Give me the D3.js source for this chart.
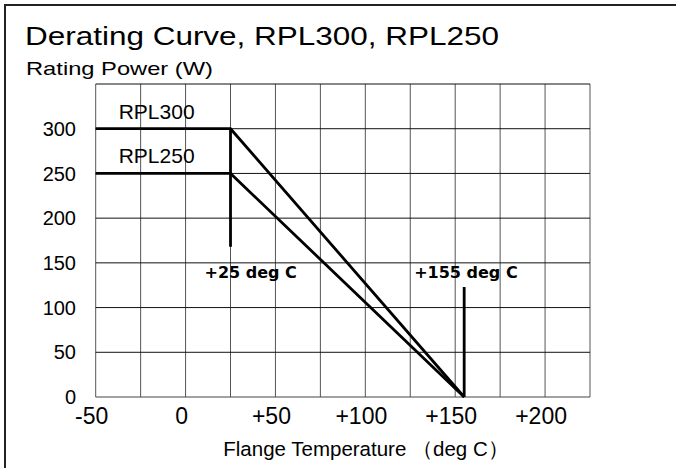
<!DOCTYPE html>
<html>
<head>
<meta charset="utf-8">
<script src="https://cdn.jsdelivr.net/npm/d3@7"></script>
<style>
  body { margin: 0; background: #fff; }
  text { font-family: "Liberation Sans", Arial, sans-serif; fill: #000; }
  text.mark { font-family: "DejaVu Sans", sans-serif; font-weight: bold; }
</style>
</head>
<body>
<svg id="chart" width="676" height="468"></svg>
<script>
// derating curve data (deg C / W)
var temps = [-50, 25, 155];
var rpl300 = [300, 300, 0];
var rpl250 = [250, 250, 0];
var seriesNames = ["RPL300", "RPL250"];
var xTicks = [-50, 0, 50, 100, 150, 200];
var xTickLabels = ["-50", "0", "+50", "+100", "+150", "+200"];
var yTicks = [0, 50, 100, 150, 200, 250, 300];
var markerTemps = [25, 155];
var markerTop = [300, 123];
var markerBottom = [168, 0];
var markerLabels = ["+25 deg C", "+155 deg C"];

var svg = d3.select("#chart");

var x = d3.scaleLinear().domain([-50, 225]).range([95.7, 590]);
var y = d3.scaleLinear().domain([0, 350]).range([397, 84]);

// outer frame (only top & left visible)
svg.append("path")
    .attr("d", "M5,470 L5,5 L680,5")
    .attr("fill", "none")
    .attr("stroke", "#222")
    .attr("stroke-width", 2);

// title text boxes are stretched wide in the original
svg.append("text")
    .attr("x", 25).attr("y", 45)
    .attr("font-size", 26)
    .attr("textLength", 474)
    .attr("lengthAdjust", "spacingAndGlyphs")
    .text("Derating Curve, RPL300, RPL250");
svg.append("text")
    .attr("x", 26).attr("y", 74.5)
    .attr("font-size", 19)
    .attr("textLength", 187)
    .attr("lengthAdjust", "spacingAndGlyphs")
    .text("Rating Power (W)");

// grid
var grid = svg.append("g");
grid.selectAll("line.v")
    .data(d3.range(-50, 226, 25))
    .enter().append("line")
    .attr("x1", function(d){ return x(d); })
    .attr("x2", function(d){ return x(d); })
    .attr("y1", y(0)).attr("y2", y(350))
    .attr("stroke", "#555").attr("stroke-width", 1);
grid.selectAll("line.h")
    .data(d3.range(0, 351, 50))
    .enter().append("line")
    .attr("y1", function(d){ return y(d); })
    .attr("y2", function(d){ return y(d); })
    .attr("x1", x(-50)).attr("x2", x(225))
    .attr("stroke", function(d){ return d === 0 ? "#444" : "#111"; })
    .attr("stroke-width", 1);

// y tick labels
svg.selectAll("text.ytick")
    .data(yTicks)
    .enter().append("text")
    .attr("x", 76)
    .attr("y", function(d){ return y(d); })
    .attr("dy", "0.36em")
    .attr("text-anchor", "end")
    .attr("font-size", 20)
    .text(function(d){ return d; });

// x tick labels
svg.selectAll("text.xtick")
    .data(xTicks)
    .enter().append("text")
    .attr("x", function(d){ return x(d) - 4; })
    .attr("y", 424)
    .attr("text-anchor", "middle")
    .attr("font-size", 23)
    .text(function(d, i){ return xTickLabels[i]; });

svg.append("text")
    .attr("x", 366).attr("y", 456)
    .attr("text-anchor", "middle")
    .attr("font-size", 20.5)
    .text("Flange Temperature （deg C）");

// curves
var line = d3.line()
    .x(function(d, i){ return x(temps[i]); })
    .y(function(d){ return y(d); });
[rpl300, rpl250].forEach(function(s, k){
    svg.append("path")
        .attr("d", line(s))
        .attr("fill", "none")
        .attr("stroke", "#000")
        .attr("stroke-width", 2.8);
    svg.append("text")
        .attr("x", x(-50) + 23)
        .attr("y", y(s[0]) - 10)
        .attr("font-size", 21)
        .text(seriesNames[k]);
});

// temperature markers
markerTemps.forEach(function(t, i){
    svg.append("line")
        .attr("x1", x(t)).attr("x2", x(t))
        .attr("y1", y(markerTop[i])).attr("y2", y(markerBottom[i]))
        .attr("stroke", "#000").attr("stroke-width", 2.8);
});
svg.selectAll("text.mark")
    .data(markerTemps)
    .enter().append("text")
    .attr("class", "mark")
    .attr("x", function(d, i){ return i === 0 ? x(d) - 26 : x(d) - 50; })
    .attr("y", 278)
    .attr("font-size", 16)
    .text(function(d, i){ return markerLabels[i]; });
</script>
</body>
</html>
